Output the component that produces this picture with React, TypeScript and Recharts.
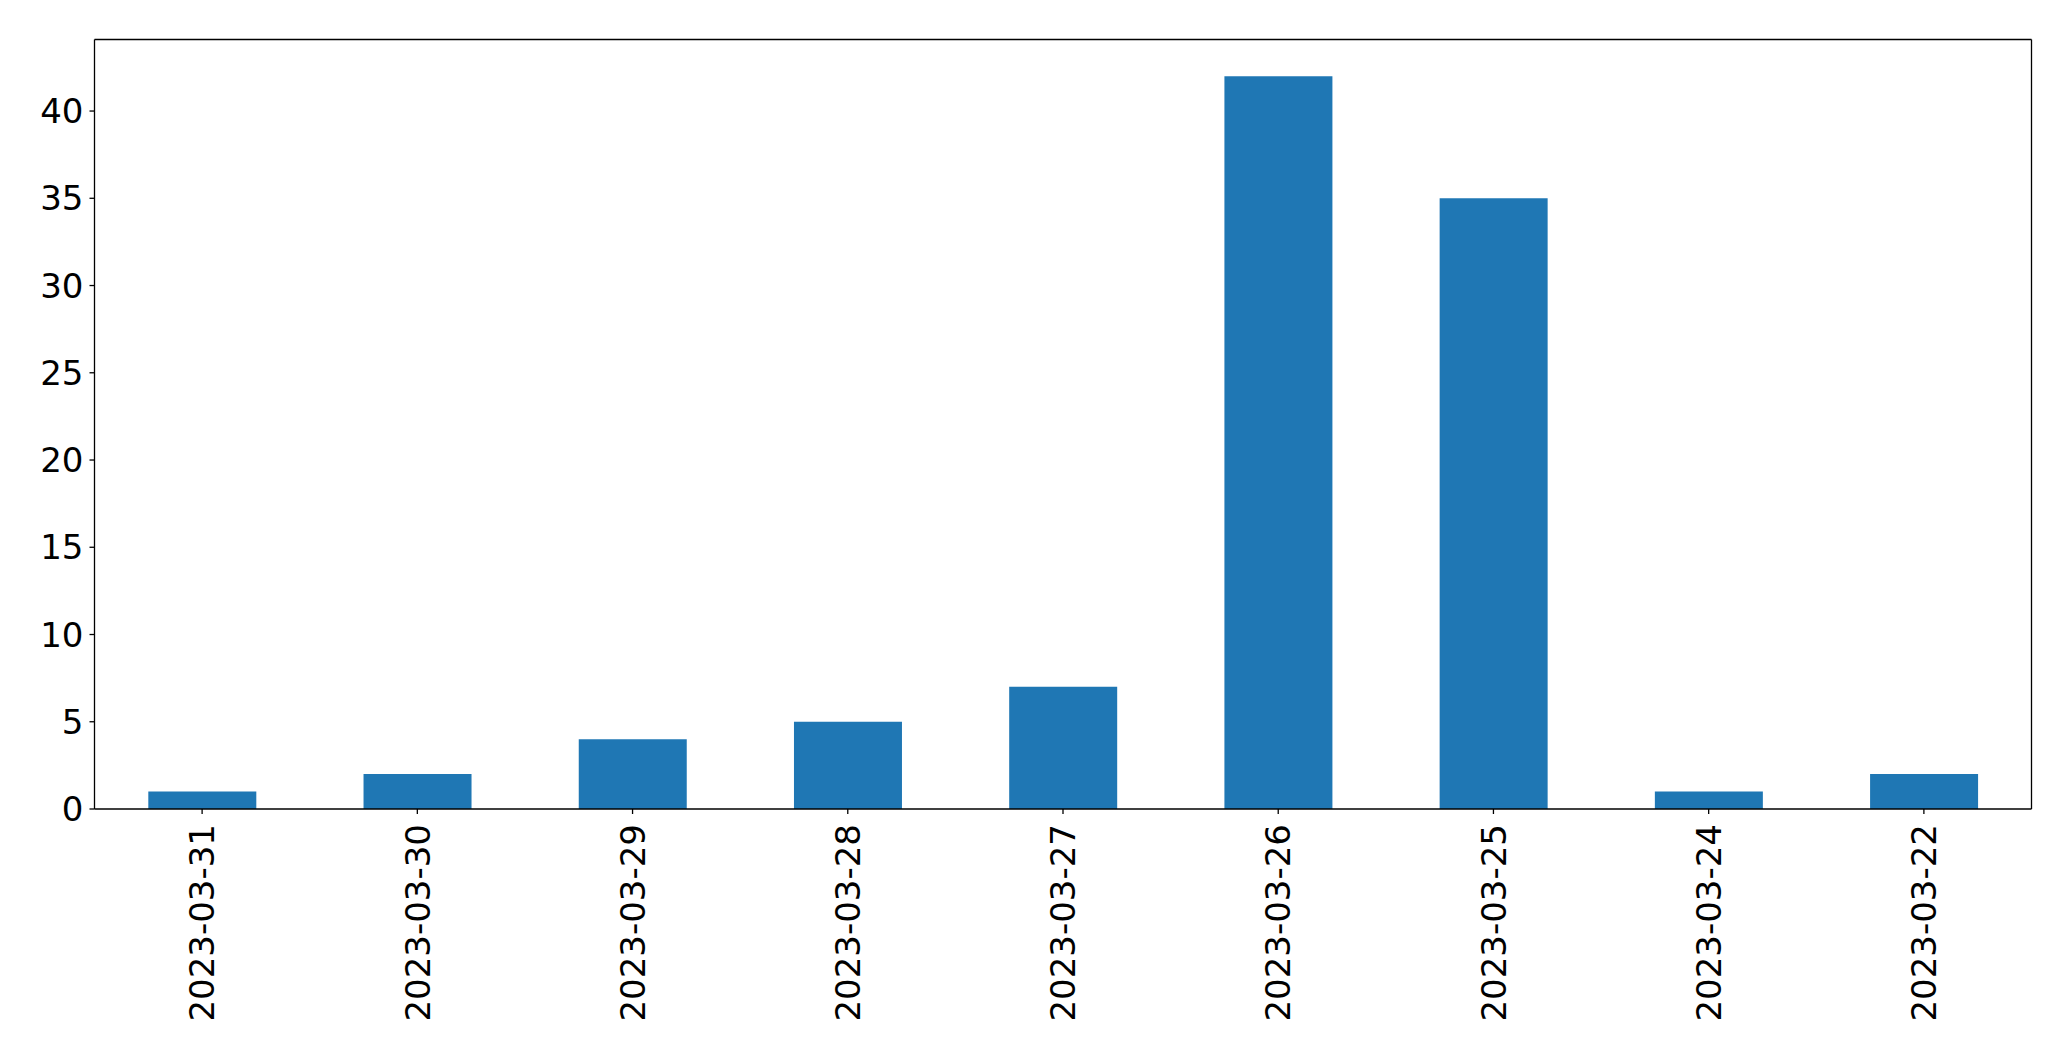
import React from "react";
import { BarChart, Bar, XAxis, YAxis } from "recharts";

const categories = ["2023-03-31", "2023-03-30", "2023-03-29", "2023-03-28", "2023-03-27", "2023-03-26", "2023-03-25", "2023-03-24", "2023-03-22"];
const counts = [1, 2, 4, 5, 7, 42, 35, 1, 2];
const yTicks = [0, 5, 10, 15, 20, 25, 30, 35, 40];

const data = categories.map((c, i) => ({ date: c, count: counts[i] }));

const FONT = "DejaVu Sans";

const XTick = (props: any) => {
  const { x, y, payload } = props;
  return (
    <text
      x={x}
      y={y}
      transform={`rotate(-90, ${x}, ${y})`}
      textAnchor="end"
      dy="0.36em"
      fontFamily={FONT}
      fontSize={34}
      fill="#000"
    >
      {payload.value}
    </text>
  );
};

export default function App() {
  return (
    <div style={{ position: "absolute", left: 0, top: 0, background: "#fff" }}>
      <BarChart
        width={2071}
        height={1061}
        data={data}
        margin={{ top: 38.5, right: 38.5, left: 0, bottom: 0 }}
        barCategoryGap="25%"
      >
        <XAxis
          dataKey="date"
          xAxisId="main"
          height={252}
          interval={0}
          tick={<XTick />}
          tickSize={5}
          tickMargin={10}
          axisLine={{ stroke: "#000", strokeWidth: 1.3 }}
          tickLine={{ stroke: "#000", strokeWidth: 1.3 }}
        />
        <XAxis
          dataKey="date"
          xAxisId="top"
          orientation="top"
          height={1}
          tick={false}
          tickLine={false}
          axisLine={{ stroke: "#000", strokeWidth: 1.3 }}
        />
        <YAxis
          yAxisId="main"
          width={94.5}
          domain={[0, 44.1]}
          ticks={yTicks}
          allowDataOverflow
          tickSize={5}
          tickMargin={6}
          tick={{ fontFamily: FONT, fontSize: 34, fill: "#000" }}
          axisLine={{ stroke: "#000", strokeWidth: 1.3 }}
          tickLine={{ stroke: "#000", strokeWidth: 1.3 }}
        />
        <YAxis
          yAxisId="right"
          orientation="right"
          width={1}
          domain={[0, 44.1]}
          tick={false}
          tickLine={false}
          axisLine={{ stroke: "#000", strokeWidth: 1.3 }}
        />
        <Bar
          dataKey="count"
          xAxisId="main"
          yAxisId="main"
          fill="#1f77b4"
          isAnimationActive={false}
        />
      </BarChart>
    </div>
  );
}
